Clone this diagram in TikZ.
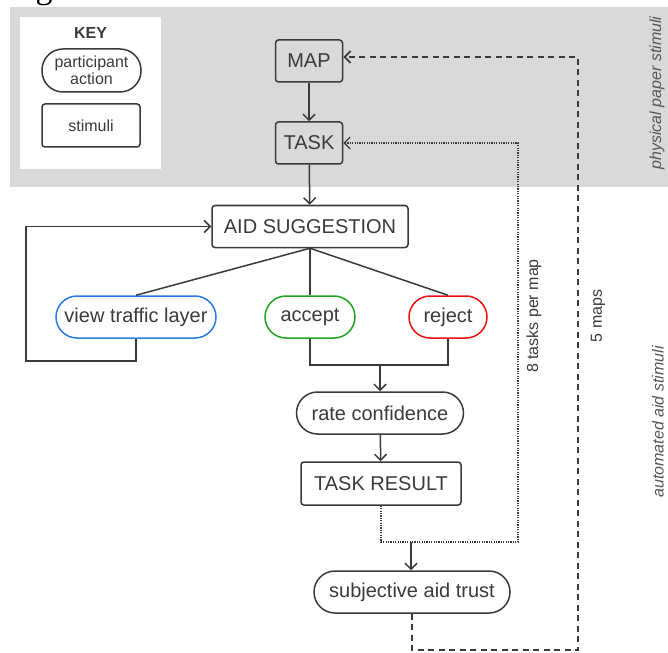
\documentclass[tikz,border=0pt]{standalone}
\usepackage{fontspec}
\setmainfont{Liberation Sans}
\newfontfamily\capfont{Liberation Serif}
\usetikzlibrary{arrows.meta}
\definecolor{ink}{HTML}{3A3A3A}
\definecolor{panel}{HTML}{D9D9D9}
\definecolor{sidegray}{HTML}{555555}
\definecolor{viewblue}{HTML}{2A7AE2}
\definecolor{acceptgreen}{HTML}{1FA51F}
\definecolor{rejectred}{HTML}{EE1111}
\tikzset{
  base/.style={draw=ink, line width=1.5pt, text=ink, inner sep=0pt,
    font=\fontsize{20}{24}\selectfont},
  stimbox/.style={base, rectangle, rounded corners=3pt, minimum height=42pt},
  actpill/.style={base, rectangle, rounded corners=21pt, minimum height=42pt},
  link/.style={draw=ink, line width=1.5pt},
  flow/.style={link, -{Straight Barb[length=6pt,width=12pt]}},
  taskloop/.style={draw=ink, line width=1.4pt, dash pattern=on 1.2pt off 1.2pt,
    -{Straight Barb[length=6pt,width=12pt]}},
  maploop/.style={draw=ink, line width=1.8pt, dash pattern=on 6pt off 4.5pt,
    -{Straight Barb[length=6pt,width=12pt]}},
  sidelabel/.style={text=ink, inner sep=0pt, rotate=90, font=\fontsize{16}{19}\selectfont},
  zonelabel/.style={text=sidegray, inner sep=0pt, rotate=90, font=\fontsize{16}{19}\selectfont\itshape},
}
\begin{document}
\begin{tikzpicture}[x=1pt, y=-1pt]
\useasboundingbox (0,0) rectangle (668,652);

% caption line, partly above the page edge
\begin{scope}
  \clip (0,0) rectangle (668,20);
  \node[anchor=base west, inner sep=0pt, text=black, font=\capfont\fontsize{34}{40}\selectfont]
    (caption) at (7,-1) {Figure 4: Process};
\end{scope}

% shaded band for the paper stimuli
\fill[panel] (10,7) rectangle (668,187);

% key
\fill[white] (20,17) rectangle (161,169);
\node[text=ink, inner sep=0pt, font=\fontsize{16}{19}\selectfont\bfseries] (keytitle) at (90.5,33) {KEY};
\node[actpill, fill=white, minimum width=99pt, minimum height=43pt, align=center,
  font=\fontsize{16}{17}\selectfont] (keyact) at (91.5,70.5) {participant\\action};
\node[stimbox, fill=white, minimum width=98pt, minimum height=43pt,
  font=\fontsize{16}{19}\selectfont] (keystim) at (91,125.5) {stimuli};

% stimuli and actions
\node[stimbox, fill=panel, minimum width=67pt] (map) at (309,61) {MAP};
\node[stimbox, fill=panel, minimum width=67pt] (task) at (309,143) {TASK};
\node[stimbox, fill=white, minimum width=196pt] (aid) at (310,226.5) {AID SUGGESTION};
\node[actpill, draw=viewblue, minimum width=160pt] (view) at (136,317) {view traffic layer};
\node[actpill, draw=acceptgreen, minimum width=90pt] (accept) at (310,317) {accept};
\node[actpill, draw=rejectred, minimum width=78pt] (reject) at (448,317) {reject};
\node[actpill, minimum width=167pt] (rate) at (380,413) {rate confidence};
\node[stimbox, minimum width=160pt, minimum height=43pt] (result) at (381,483.5) {TASK RESULT};
\node[actpill, minimum width=196pt] (trust) at (412,592) {subjective aid trust};

% main flow
\draw[flow] (map) -- (task);
\draw[flow] (task) -- (aid);
\draw[link] (aid.south) -- (view.north);
\draw[link] (aid.south) -- (accept.north);
\draw[link] (aid.south) -- (reject.north);

% looking at the traffic layer returns to the suggestion
\coordinate (viewturn) at (26,361);
\draw[flow] (view.south) -- (view.south |- viewturn) -- (viewturn) |- (aid.west);

% accept or reject, then confidence
\coordinate (merge) at (380,365);
\draw[link] (accept.south) -- (accept.south |- merge) -- (reject.south |- merge) -- (reject.south);
\draw[flow] (merge) -- (rate.north);
\draw[flow] (rate) -- (result);

% next task
\coordinate (taskjoin) at (411,542);
\coordinate (taskcorner) at (518,542);
\draw[taskloop] (result.south) -- (result.south |- taskcorner) -- (taskcorner) |- (task.east);
\draw[flow] (taskjoin) -- (taskjoin |- trust.north);

% next map
\coordinate (mapcorner) at (578,650);
\draw[maploop] (trust.south) -- (trust.south |- mapcorner) -- (mapcorner) -- (578,57) -- (map.east |- 0,57);

% loop counts and zone labels
\node[sidelabel] (tasklabel) at (534,316) {8 tasks per map};
\node[sidelabel] (maplabel) at (598,316) {5 maps};
\node[zonelabel] (paperzone) at (657,93) {physical paper stimuli};
\node[zonelabel] (aidzone) at (658,422) {automated aid stimuli};
\end{tikzpicture}
\end{document}
